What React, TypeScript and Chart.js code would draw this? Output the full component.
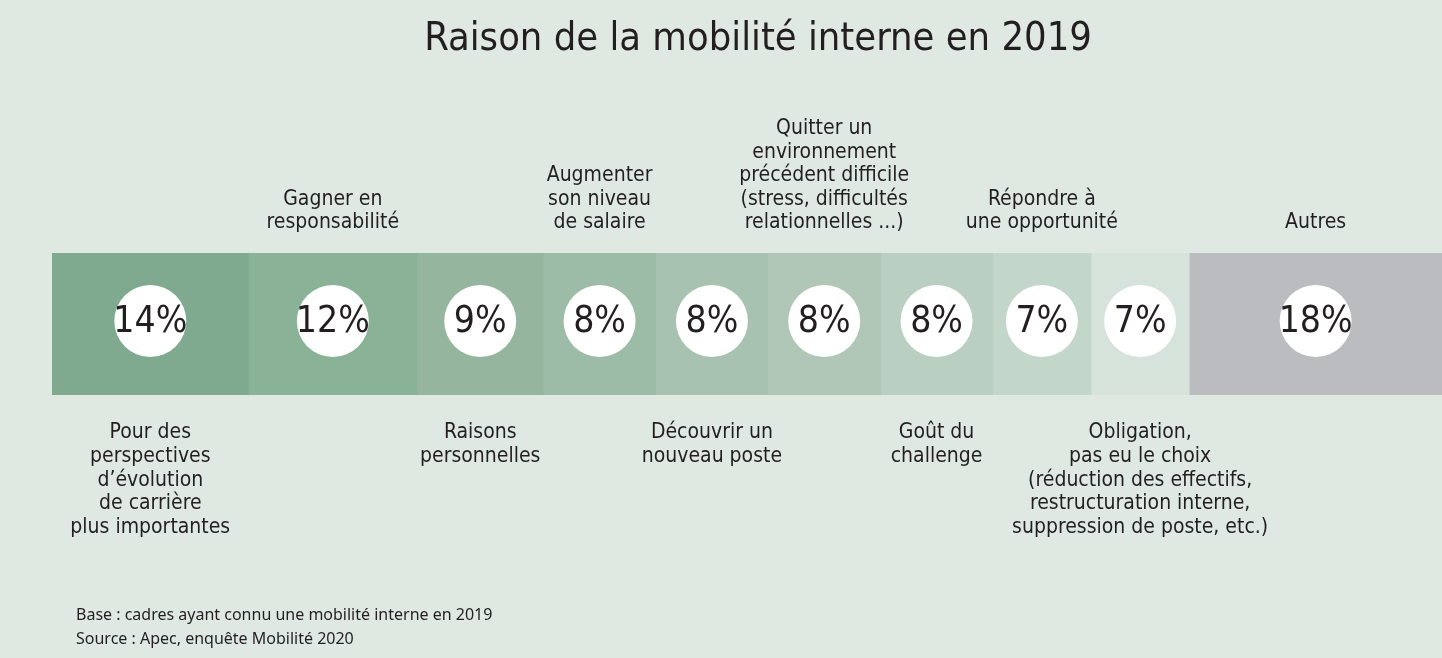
import React, { useEffect, useRef } from "react";
import { Chart, registerables } from "chart.js";

Chart.register(...registerables);

const TITLE = "Raison de la mobilité interne en 2019";
const reasons: string[][] = [
  ["Pour des", "perspectives", "d’évolution", "de carrière", "plus importantes"],
  ["Gagner en", "responsabilité"],
  ["Raisons", "personnelles"],
  ["Augmenter", "son niveau", "de salaire"],
  ["Découvrir un", "nouveau poste"],
  ["Quitter un", "environnement", "précédent difficile", "(stress, difficultés", "relationnelles ...)"],
  ["Goût du", "challenge"],
  ["Répondre à", "une opportunité"],
  ["Obligation,", "pas eu le choix", "(réduction des effectifs,", "restructuration interne,", "suppression de poste, etc.)"],
  ["Autres"],
];
const values: number[] = [14, 12, 9, 8, 8, 8, 8, 7, 7, 18];
const labelSide: string[] = ["below", "above", "below", "above", "below", "above", "below", "above", "below", "above"];
const colors: string[] = [
  "#80aa8f", "#8ab297", "#96b59f", "#9dbca7", "#a7c2b0",
  "#b0c7b7", "#b9cfc1", "#c3d6ca", "#d6e3da", "#bbbcc0",
];
const footnotes: string[] = [
  "Base : cadres ayant connu une mobilité interne en 2019",
  "Source : Apec, enquête Mobilité 2020",
];

const BG = "#dfe9e2";
const INK = "#231f20";
const COND = "'DejaVu Sans Condensed', 'Liberation Sans Narrow', sans-serif";

export default function App() {
  const ref = useRef<HTMLCanvasElement | null>(null);

  useEffect(() => {
    if (!ref.current) return;
    const total = values.reduce((a, b) => a + b, 0);

    const textPlugin = {
      id: "textPlugin",
      beforeDraw(chart: any) {
        const ctx = chart.ctx;
        ctx.save();
        ctx.fillStyle = BG;
        ctx.fillRect(0, 0, chart.width, chart.height);
        ctx.restore();
      },
      afterDatasetsDraw(chart: any) {
        const ctx = chart.ctx;
        ctx.save();
        // title
        ctx.fillStyle = INK;
        ctx.font = `39.5px ${COND}`;
        ctx.textAlign = "center";
        ctx.textBaseline = "middle";
        ctx.fillText(TITLE, 758, 40);

        const lh = 23.6;
        values.forEach((v, i) => {
          const meta = chart.getDatasetMeta(i);
          const el: any = meta.data[0];
          if (!el) return;
          const p = el.getProps(["x", "base", "y", "height"], true);
          const cx = (p.x + p.base) / 2;
          const top = p.y - p.height / 2;
          const bottom = p.y + p.height / 2;
          const cy = p.y - 3;
          // circle
          ctx.beginPath();
          ctx.arc(cx, cy, 36, 0, Math.PI * 2);
          ctx.fillStyle = "#ffffff";
          ctx.fill();
          ctx.fillStyle = INK;
          ctx.font = `37px ${COND}`;
          ctx.textAlign = "center";
          ctx.textBaseline = "middle";
          ctx.fillText(`${v}%`, cx, cy + 1);
          // labels
          ctx.font = `21px ${COND}`;
          const lines = reasons[i];
          if (labelSide[i] === "above") {
            const lastY = top - 30;
            lines.forEach((ln, k) => {
              ctx.fillText(ln, cx, lastY - (lines.length - 1 - k) * lh);
            });
          } else {
            const firstY = bottom + 38;
            lines.forEach((ln, k) => {
              ctx.fillText(ln, cx, firstY + k * lh);
            });
          }
        });

        // footnotes
        ctx.font = "16px 'Noto Sans', 'Liberation Sans', sans-serif";
        ctx.textAlign = "left";
        ctx.textBaseline = "middle";
        footnotes.forEach((f, k) => {
          ctx.fillText(f, 76, 615 + k * 24);
        });
        ctx.restore();
      },
    };

    const chart = new Chart(ref.current, {
      type: "bar",
      data: {
        labels: ["2019"],
        datasets: values.map((v, i) => ({
          label: reasons[i].join(" "),
          data: [v],
          backgroundColor: colors[i],
          borderWidth: 0,
          barPercentage: 1,
          categoryPercentage: 1,
        })),
      },
      options: {
        indexAxis: "y",
        animation: false,
        responsive: false,
        devicePixelRatio: 1,
        layout: { padding: { top: 253, bottom: 263, left: 52, right: 0 } },
        scales: {
          x: { stacked: true, min: 0, max: total, display: false },
          y: { stacked: true, display: false },
        },
        plugins: {
          legend: { display: false },
          tooltip: { enabled: false },
          title: { display: false },
        },
      },
      plugins: [textPlugin],
    } as any);
    return () => chart.destroy();
  }, []);

  return (
    <div style={{ position: "absolute", left: 0, top: 0, width: 1442, height: 658, background: BG }}>
      <canvas ref={ref} width={1442} height={658} style={{ display: "block", width: 1442, height: 658 }} />
    </div>
  );
}
